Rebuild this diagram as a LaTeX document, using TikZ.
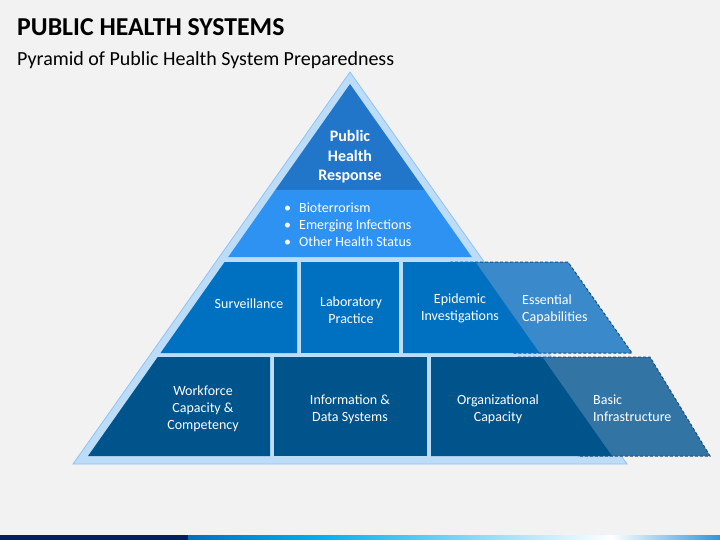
\documentclass[tikz,border=0pt]{standalone}
\usepackage{fontspec}
\setmainfont{Carlito}
\definecolor{bgc}{HTML}{F2F2F2}
\definecolor{framefill}{HTML}{BDDCF8}
\definecolor{framedraw}{HTML}{8EC3F2}
\definecolor{topc}{HTML}{2276C9}
\definecolor{bulc}{HTML}{2E92F2}
\definecolor{midc}{HTML}{0070C0}
\definecolor{botc}{HTML}{00548C}
\definecolor{essc}{HTML}{3A8ACB}
\definecolor{basc}{HTML}{3275A5}
\definecolor{dashc}{HTML}{1F4E79}
\definecolor{navyc}{HTML}{002060}
\definecolor{cyanc}{HTML}{00B0F0}
\definecolor{endc}{HTML}{2E96DC}
\begin{document}
\begin{tikzpicture}[x=1pt,y=-1pt,
  lbl/.style={text=white, align=center, inner sep=0pt, font=\fontsize{14}{17}\selectfont},
  lbll/.style={text=white, align=left, inner sep=0pt, anchor=west, font=\fontsize{14}{17}\selectfont},
  dashbox/.style={draw=dashc, line width=1pt, dash pattern=on 3pt off 2pt}]
\useasboundingbox (0,0) rectangle (720,540);
\fill[bgc] (0,0) rectangle (720,540);
% titles
\node[anchor=base west, inner sep=0pt, font=\fontsize{25.8}{30}\selectfont\bfseries] (title) at (17,36) {PUBLIC HEALTH SYSTEMS};
\node[anchor=base west, inner sep=0pt, font=\fontsize{20}{24}\selectfont] (subtitle) at (17,66) {Pyramid of Public Health System Preparedness};
% outer frame
\filldraw[fill=framefill, draw=framedraw, line width=0.8pt] (350,72) -- (627,464) -- (73,464) -- cycle;
% side parallelograms
\filldraw[fill=essc, dashbox] (450,262) -- (568,262) -- (632,353) -- (514,353) -- cycle;
\filldraw[fill=basc, dashbox] (518,357) -- (650,357) -- (710,456) -- (578,456) -- cycle;
% top tier
\fill[topc] (350,84) -- (424.7,190) -- (275.3,190) -- cycle;
\fill[bulc] (275.3,190) -- (424.7,190) -- (471.8,257) -- (228.2,257) -- cycle;
% middle tier
\fill[midc] (224.6,262) -- (297,262) -- (297,353) -- (160.5,353) -- cycle;
\fill[midc] (301,262) rectangle (399,353);
\fill[midc] (403,262) -- (475.4,262) -- (539.5,353) -- (403,353) -- cycle;
% bottom tier
\fill[botc] (157.7,357) -- (270,357) -- (270,456) -- (88,456) -- cycle;
\fill[botc] (274,357) rectangle (427,456);
\fill[botc] (431,357) -- (542.3,357) -- (612,456) -- (431,456) -- cycle;
% labels
\node[lbl, font=\fontsize{16}{19.5}\selectfont\bfseries] (resp) at (350,157) {Public\\Health\\Response};
\node[lbll] (bullets) at (284,225) {\textbullet\hspace{8pt}Bioterrorism\\\textbullet\hspace{8pt}Emerging Infections\\\textbullet\hspace{8pt}Other Health Status};
\node[lbl] (surv) at (249,304) {Surveillance};
\node[lbl] (lab) at (351,310) {Laboratory\\Practice};
\node[lbl] (epi) at (460,308) {Epidemic\\Investigations};
\node[lbll] (ess) at (522,309) {Essential\\Capabilities};
\node[lbl] (work) at (203,408.5) {Workforce\\Capacity \&\\Competency};
\node[lbl] (info) at (350,409) {Information \&\\Data Systems};
\node[lbl] (org) at (498,409) {Organizational\\Capacity};
\node[lbll] (basic) at (593,408) {Basic\\Infrastructure};
% bottom bar
\fill[navyc] (0,535) rectangle (188,540);
\shade[left color=midc, right color=cyanc] (188,535) rectangle (321,540);
\shade[left color=cyanc, right color=white] (320.5,535) rectangle (611,540);
\shade[left color=white, right color=endc] (610.5,535) rectangle (720,540);
\end{tikzpicture}
\end{document}
